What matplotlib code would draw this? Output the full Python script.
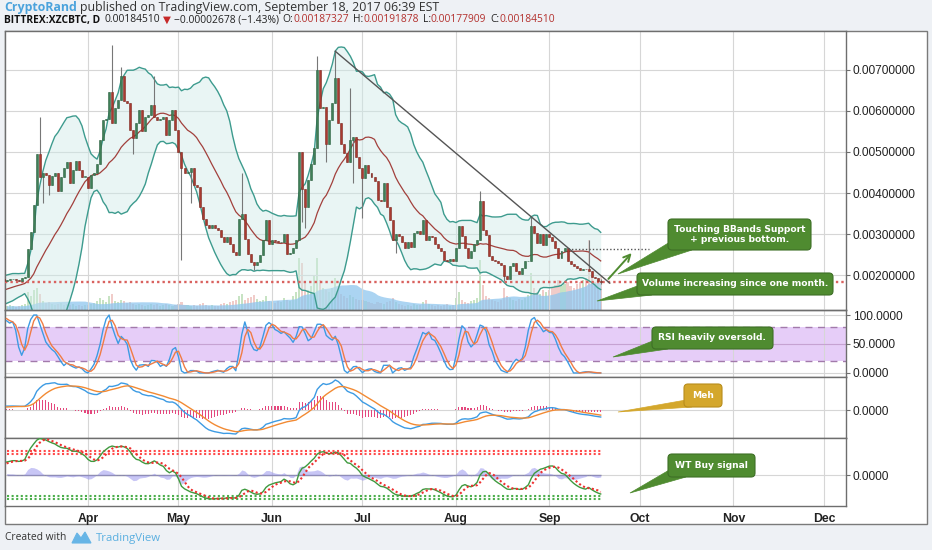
import numpy as np
import pandas as pd
import matplotlib
matplotlib.use("Agg")
import matplotlib.pyplot as plt
import matplotlib.dates as mdates
from matplotlib.patches import FancyBboxPatch, Polygon, Rectangle

# ---- data (prices in mBTC) ----
# the first 30 days are off-screen history, only used to warm up the indicators
start_date = "2017-02-03"
warmup_close = [1.50, 1.48, 1.45, 1.47, 1.44, 1.42, 1.45, 1.43, 1.40, 1.42,
                1.38, 1.40, 1.43, 1.41, 1.46, 1.50, 1.48, 1.55, 1.60, 1.58,
                1.65, 1.70, 1.75, 1.72, 1.80, 1.85, 1.82, 1.88, 1.90, 1.87]
mar_close = [1.88, 1.90, 1.92, 1.88, 1.86, 1.93, 1.97, 2.65, 3.05, 3.70, 4.95, 4.40,
             4.50, 4.45, 4.20, 4.42, 4.48, 4.05, 4.40, 4.60, 4.76, 4.25, 4.55, 4.78,
             4.56, 4.40, 4.40]
apr_close = [4.12, 4.44, 4.50, 4.72, 5.29, 5.78, 5.80, 6.47, 5.70, 6.07, 6.27, 6.84,
             6.23, 6.20, 5.54, 5.33, 5.70, 6.02, 5.50, 5.86, 5.90, 6.15, 5.86, 5.78,
             5.80, 5.85, 5.41, 5.78, 6.02, 5.54]
may_close = [5.00, 4.60, 4.48, 4.52, 4.60, 4.20, 4.16, 3.67, 3.38, 3.22, 3.14, 3.22,
             3.14, 3.10, 2.94, 2.80, 2.93, 2.77, 2.57, 2.50, 3.38, 3.50, 2.89, 2.53,
             2.33, 2.25, 2.32, 2.49, 2.85, 3.34, 2.77]
jun_close = [2.85, 2.83, 2.80, 2.81, 3.01, 2.53, 2.55, 2.67, 2.85, 5.00, 4.11, 3.67,
             4.32, 4.72, 5.10, 7.00, 6.07, 6.10, 5.20, 5.78, 6.19, 6.80, 5.70, 5.20,
             4.97, 4.76, 5.29, 5.37, 4.89, 4.60]
jul_close = [4.36, 4.68, 4.48, 4.40, 4.30, 3.83, 3.80, 4.24, 3.67, 3.35, 2.85, 3.01,
             2.95, 2.80, 2.66, 2.82, 2.68, 3.03, 3.07, 3.00, 3.35, 2.85, 2.95, 2.92,
             2.75, 2.66, 2.58, 2.38, 2.34, 2.40, 2.36]
aug_close = [2.66, 3.19, 2.95, 2.66, 2.42, 2.58, 2.75, 2.87, 3.80, 3.10, 2.99, 2.46,
             2.38, 2.34, 2.30, 2.25, 1.98, 1.92, 2.22, 2.30, 2.10, 2.02, 2.17, 2.34,
             2.36, 3.19, 3.03, 2.79, 3.00, 2.74, 3.00]
sep_close = [2.92, 2.83, 2.66, 2.42, 2.58, 2.66, 2.34, 2.28, 2.22, 2.18, 2.14, 2.16,
             2.15, 2.10, 1.97, 1.93, 1.87188, 1.84510]

# last bar as shown in the header
last_open, last_high, last_low = 1.87327, 1.91878, 1.77909

# long wicks (high, low) that stick out of the bodies
wicks = {
    "2017-03-16": (5.85, None), "2017-03-17": (None, 3.75), "2017-03-19": (None, 3.95),
    "2017-04-09": (7.60, None), "2017-04-12": (7.08, None), "2017-04-16": (None, 4.95),
    "2017-04-23": (6.84, None), "2017-05-02": (None, 2.37), "2017-05-05": (None, 3.75),
    "2017-05-22": (4.48, None), "2017-05-26": (None, 2.12), "2017-06-11": (None, 3.30),
    "2017-06-12": (None, 3.15), "2017-06-16": (7.33, None), "2017-06-19": (None, 4.75),
    "2017-06-22": (7.48, None), "2017-06-27": (6.55, None), "2017-06-28": (None, 4.24),
    "2017-07-01": (None, 3.40), "2017-07-12": (None, 2.55), "2017-08-09": (4.05, None),
    "2017-08-17": (None, 1.85), "2017-08-26": (3.43, None), "2017-09-14": (2.87, None),
}

warmup_volume = [4, 3, 5, 4, 3, 4, 5, 3, 4, 4, 3, 4, 3, 5, 4, 3, 4, 6, 5, 4,
                 3, 4, 5, 6, 4, 5, 4, 3, 5, 4]
mar_volume = [4, 5, 4, 3, 4, 5, 6, 18, 14, 20, 22, 16, 9, 7, 8, 6, 5, 6, 7, 5, 6, 5,
              6, 4, 5, 4, 5]
apr_volume = [5, 6, 7, 9, 12, 10, 8, 14, 16, 9, 8, 10, 9, 7, 8, 6, 5, 6, 5, 4, 5, 6,
              5, 6, 4, 5, 6, 5, 4, 5]
may_volume = [6, 8, 5, 5, 4, 5, 4, 6, 7, 5, 4, 5, 4, 4, 6, 7, 6, 8, 9, 10, 14, 16, 10,
              12, 13, 15, 11, 9, 10, 14, 9]
jun_volume = [8, 7, 9, 8, 12, 10, 9, 14, 18, 52, 47, 28, 20, 24, 35, 52, 30, 22, 20,
              18, 22, 32, 20, 16, 14, 12, 15, 13, 11, 10]
jul_volume = [10, 9, 8, 7, 6, 8, 7, 6, 8, 9, 12, 8, 6, 5, 4, 5, 4, 6, 5, 5, 8, 10, 6,
              5, 4, 5, 4, 5, 6, 4, 5]
aug_volume = [12, 18, 10, 8, 7, 9, 10, 12, 50, 25, 14, 12, 10, 9, 8, 10, 22, 14, 12,
              10, 9, 11, 10, 12, 15, 37, 22, 18, 16, 20, 18]
sep_volume = [20, 22, 25, 30, 24, 26, 28, 24, 22, 26, 28, 30, 32, 70, 35, 28, 30, 34]

trend_start = ("2017-06-22", 7.45)
trend_end = ("2017-09-21", 1.81)
prev_bottom = 2.64
prev_bottom_span = ("2017-09-07", "2017-10-04")

month_ticks = ["2017-04-01", "2017-05-01", "2017-06-01", "2017-07-01", "2017-08-01",
               "2017-09-01", "2017-10-01", "2017-11-01", "2017-12-01"]
month_labels = ["Apr", "May", "Jun", "Jul", "Aug", "Sep", "Oct", "Nov", "Dec"]
price_ticks = [0.002, 0.003, 0.004, 0.005, 0.006, 0.007]

# ---- series ----
close_mbtc = (warmup_close + mar_close + apr_close + may_close + jun_close
              + jul_close + aug_close + sep_close)
volume = (warmup_volume + mar_volume + apr_volume + may_volume + jun_volume
          + jul_volume + aug_volume + sep_volume)
dates = pd.date_range(start_date, periods=len(close_mbtc), freq="D")
close = pd.Series(close_mbtc, index=dates) * 1e-3
vol = pd.Series(volume, index=dates, dtype=float)

opn = close.shift(1)
opn.iloc[0] = close.iloc[0]
opn.iloc[-1] = last_open * 1e-3
high = np.maximum(opn, close)
low = np.minimum(opn, close)
high.iloc[-1] = last_high * 1e-3
low.iloc[-1] = last_low * 1e-3
for day, (h, l) in wicks.items():
    if h is not None:
        high[day] = h * 1e-3
    if l is not None:
        low[day] = l * 1e-3

# Bollinger bands 20, 2
basis = close.rolling(20).mean()
dev = close.rolling(20).std(ddof=0)
upper = basis + 2 * dev
lower = basis - 2 * dev

# Stochastic RSI 3,3,14,14
delta = close.diff()
gain = delta.clip(lower=0).ewm(alpha=1 / 14, adjust=False).mean()
loss = (-delta.clip(upper=0)).ewm(alpha=1 / 14, adjust=False).mean()
rsi = 100 - 100 / (1 + gain / loss)
rlo = rsi.rolling(14, min_periods=1).min()
rhi = rsi.rolling(14, min_periods=1).max()
stoch = 100 * (rsi - rlo) / (rhi - rlo)
k_line = stoch.rolling(3).mean()
d_line = k_line.rolling(3).mean()

# MACD 12, 26, 9
macd = close.ewm(span=12, adjust=False).mean() - close.ewm(span=26, adjust=False).mean()
signal = macd.ewm(span=9, adjust=False).mean()
hist = macd - signal

# WaveTrend (LazyBear) 10, 21
ap = (high + low + close) / 3
esa = ap.ewm(span=10, adjust=False).mean()
dd = (ap - esa).abs().ewm(span=10, adjust=False).mean()
ci = (ap - esa) / (0.015 * dd)
wt1 = ci.ewm(span=21, adjust=False).mean()
wt2 = wt1.rolling(4).mean()

vol_ma = vol.rolling(20).mean()

x = mdates.date2num(dates)
vis = dates >= pd.Timestamp("2017-03-05")
xv = x[vis]

# ---- figure ----
W, H = 932, 550
fig = plt.figure(figsize=(W / 100, H / 100), dpi=100, facecolor="#eef1f5")

GRID = "#d6d6d6"
SPINE = "#6e6e6e"
TICKFONT = "Liberation Sans"
x_left = mdates.date2num(pd.Timestamp("2017-03-04 11:30"))
x_right = mdates.date2num(pd.Timestamp("2017-12-08 08:00"))
month_x = mdates.date2num(pd.to_datetime(month_ticks))


def px_axes(x0, y0, x1, y1, **kw):
    return fig.add_axes([x0 / W, 1 - y1 / H, (x1 - x0) / W, (y1 - y0) / H], **kw)


bg = px_axes(0, 0, W, H, zorder=-10)
bg.set_xlim(0, W)
bg.set_ylim(H, 0)
bg.set_axis_off()
bg.add_patch(Rectangle((5, 30.7), 921.7, 493.3, facecolor="white", edgecolor="#7a7a7a", lw=1))


def style_panel(ax, yticks, labels):
    ax.set_xlim(x_left, x_right)
    ax.set_xticks(month_x)
    ax.tick_params(axis="x", length=0, labelbottom=False)
    ax.yaxis.tick_right()
    ax.set_yticks(yticks)
    ax.set_yticklabels(labels, fontsize=8.6, family=TICKFONT, color="#222")
    ax.tick_params(axis="y", length=3, width=0.8, color=SPINE, pad=2)
    ax.grid(True, color=GRID, lw=0.8, zorder=0)
    ax.set_axisbelow(True)
    for s in ax.spines.values():
        s.set_color(SPINE)
        s.set_linewidth(1)


# main price panel with volume underneath
ax = px_axes(5, 30.7, 846, 310)
axv = ax.twinx()
ax.set_zorder(axv.get_zorder() + 1)
ax.patch.set_visible(False)
axv.patch.set_visible(True)
axv.patch.set_facecolor("white")
axv.set_ylim(0, 280)
axv.set_yticks([])
for s in axv.spines.values():
    s.set_visible(False)

up_v = (close >= opn)[vis]
axv.bar(xv, vol[vis], width=0.7, color=np.where(up_v, "#b9dcb5", "#eec0bc"), alpha=0.8, lw=0)
axv.fill_between(xv, 0, vol_ma[vis], color="#8fc6ee", alpha=0.75, lw=0)

style_panel(ax, price_ticks, [f"{p:.8f}" for p in price_ticks])
ax.set_ylim(1.156e-3, 7.951e-3)

ax.fill_between(x, lower, upper, color="#cfeae8", alpha=0.45, lw=0, zorder=1)
ax.plot(x, upper, color="#3d9b8e", lw=1, zorder=2)
ax.plot(x, lower, color="#3d9b8e", lw=1, zorder=2)
ax.plot(x, basis, color="#a2403c", lw=0.9, zorder=2)

is_up = close >= opn
body_lo = np.minimum(opn, close)
body_h = np.maximum((close - opn).abs(), 0.012e-3)
ax.vlines(x, low, high, color="#777777", lw=0.8, zorder=3)
ax.bar(x, body_h, bottom=body_lo, width=0.66,
       color=np.where(is_up, "#3f7f57", "#a93a30"),
       edgecolor=np.where(is_up, "#2f6444", "#7f2a22"), lw=0.4, zorder=4)

ax.axhline(close.iloc[-1], color="#d9625f", ls=(0, (1, 1.3)), lw=1.7, zorder=3)
ax.hlines(prev_bottom * 1e-3, mdates.date2num(pd.Timestamp(prev_bottom_span[0])),
          mdates.date2num(pd.Timestamp(prev_bottom_span[1])),
          color="#555555", ls=(0, (1, 1.5)), lw=1, zorder=3)
ax.plot(mdates.date2num(pd.to_datetime([trend_start[0], trend_end[0]])),
        [trend_start[1] * 1e-3, trend_end[1] * 1e-3], color="#555555", lw=1, zorder=5)

# Stoch RSI panel
ax_r = px_axes(5, 310, 846, 377.3)
style_panel(ax_r, [0, 50, 100], ["0.0000", "50.0000", "100.0000"])
ax_r.set_ylim(-7.5, 108.7)
ax_r.axhspan(20, 80, color="#e6cdf8", lw=0, zorder=0.5)
ax_r.axhline(80, color="#a27aab", ls=(0, (5, 4)), lw=1, zorder=1)
ax_r.axhline(20, color="#a27aab", ls=(0, (5, 4)), lw=1, zorder=1)
ax_r.axhline(50, color="#c6a2d2", lw=0.8, zorder=1)
ax_r.plot(xv, k_line[vis], color="#3d9be3", lw=1, zorder=3)
ax_r.plot(xv, d_line[vis], color="#f07c44", lw=1, zorder=3)

# MACD panel
ax_m = px_axes(5, 377.3, 846, 438.3)
style_panel(ax_m, [0], ["0.0000"])
mx = max(macd[vis].max(), signal[vis].max(), hist[vis].max())
mn = min(macd[vis].min(), signal[vis].min(), hist[vis].min())
rng = mx - mn
ax_m.set_ylim(mn - rng * 4.3 / 54, mx + rng * 2.7 / 54)
ax_m.bar(xv, hist[vis], width=0.35, color="#e4477d", lw=0, zorder=2)
ax_m.plot(xv, macd[vis], color="#3d9be3", lw=1, zorder=3)
ax_m.plot(xv, signal[vis], color="#f28a33", lw=1, zorder=3)

# WaveTrend panel
ax_w = px_axes(5, 438.3, 846, 505.7)
style_panel(ax_w, [0], ["0.0000"])
ax_w.set_ylim(-76.75, 91.75)
x0v, x1v = xv[0], xv[-1]
for lvl in (60, 53):
    ax_w.hlines(lvl, x0v, x1v, color="#ff4a4a", ls=(0, (1, 1.2)), lw=1.5, zorder=2)
for lvl in (-60, -53):
    ax_w.hlines(lvl, x0v, x1v, color="#4cae4c", ls=(0, (1, 1.2)), lw=1.5, zorder=2)
ax_w.hlines(0, x0v, x1v, color="#8b8aa6", lw=1, zorder=2)
ax_w.fill_between(xv, 0, (wt1 - wt2)[vis], color="#9b97ee", alpha=0.55, lw=0, zorder=2)
ax_w.plot(xv, wt1[vis], color="#3f9a3f", lw=1, zorder=3)
ax_w.plot(xv, wt2[vis], color="#ee3030", ls=(0, (1, 1.2)), lw=1.5, zorder=3)
ax_w.tick_params(axis="x", labelbottom=True, pad=5)
ax_w.set_xticklabels(month_labels, fontsize=8.8, family=TICKFONT, fontweight="bold", color="#222")

# ---- overlay: header, callouts, footer ----
ov = px_axes(0, 0, W, H, zorder=10)
ov.set_xlim(0, W)
ov.set_ylim(H, 0)
ov.set_axis_off()
ov.patch.set_visible(False)

renderer = fig.canvas.get_renderer()
HEAD_FONT = ["Open Sans", "DejaVu Sans"]


def text_run(x0, y0, parts, size):
    xx = x0
    for s, col, wt, gap in parts:
        t = ov.text(xx, y0, s, color=col, fontsize=size, fontweight=wt,
                    family=HEAD_FONT, ha="left", va="center")
        xx += t.get_window_extent(renderer).width + gap


RED = "#b3302d"
prev_close = close.iloc[-2] * 1e3
last_close = close.iloc[-1] * 1e3
chg = last_close - prev_close
text_run(4, 8, [("CryptoRand", "#4ba3dc", "bold", 3.5),
                ("published on TradingView.com, September 18, 2017 06:39 EST", "#333333", "normal", 0)], 8.9)
text_run(4, 20, [("BITTREX:XZCBTC, D", "#111111", "bold", 4),
                 (f"{last_close / 1e3:.8f}", "#222222", "normal", 3),
                 ("\u25bc", "#c62828", "normal", 3),
                 (f"\u2212{abs(chg) / 1e3:.8f} (\u2212{abs(chg) / prev_close * 100:.2f}%)", "#222222", "normal", 4),
                 ("O:", "#222222", "normal", 0), (f"{last_open / 1e3:.8f}", RED, "normal", 4),
                 ("H:", "#222222", "normal", 0), (f"{last_high / 1e3:.8f}", RED, "normal", 4),
                 ("L:", "#222222", "normal", 0), (f"{last_low / 1e3:.8f}", RED, "normal", 4),
                 ("C:", "#222222", "normal", 0), (f"{last_close / 1e3:.8f}", RED, "normal", 0)], 7.4)


def callout(box, tail, text, face="#4f8b30", edge="#3e7026"):
    x0, y0, x1, y1 = box
    ov.add_patch(Polygon(tail, closed=True, facecolor=face, edgecolor=face, lw=0.5, zorder=11))
    ov.add_patch(FancyBboxPatch((x0, y0), x1 - x0, y1 - y0,
                                boxstyle="round,pad=0,rounding_size=4",
                                facecolor=face, edgecolor=edge, lw=0.8, zorder=12))
    ov.text((x0 + x1) / 2, (y0 + y1) / 2, text, color="white", fontsize=6.6,
            fontweight="bold", ha="center", va="center", linespacing=1.0,
            family="DejaVu Sans", zorder=13)


callout((668, 219, 811, 250), [(670, 242), (692, 250), (618, 274)],
        "Touching BBands Support\n+ previous bottom.")
callout((637, 273, 833, 295), [(640, 285), (652, 295), (597, 301)],
        "Volume increasing since one month.")
callout((652, 327, 773, 349), [(655, 340), (668, 349), (613, 357)],
        "RSI heavily oversold.")
callout((684, 384, 722, 407), [(686, 400), (692, 407), (618, 412)],
        "Meh", face="#d4a72c", edge="#b88d1c")
callout((668, 454, 755, 477), [(671, 469), (686, 477), (630, 493)],
        "WT Buy signal")

ov.annotate("", xy=(633.5, 251), xytext=(606.5, 281),
            arrowprops=dict(arrowstyle="->", color="#4f8b30", lw=1.4, mutation_scale=12))

# footer
ov.text(5, 538, "Created with", fontsize=7.4, color="#333333", family=HEAD_FONT, ha="left", va="center")
ov.add_patch(Polygon([(72, 543), (77, 533), (81, 538), (85, 532), (91, 543)],
                     closed=True, facecolor="#67b5e6", edgecolor="#67b5e6", lw=0.8))
ov.text(96, 538, "TradingView", fontsize=8.2, color="#5aafe0", family=HEAD_FONT, ha="left", va="center")

fig.savefig("out.png", dpi=100, facecolor=fig.get_facecolor())
